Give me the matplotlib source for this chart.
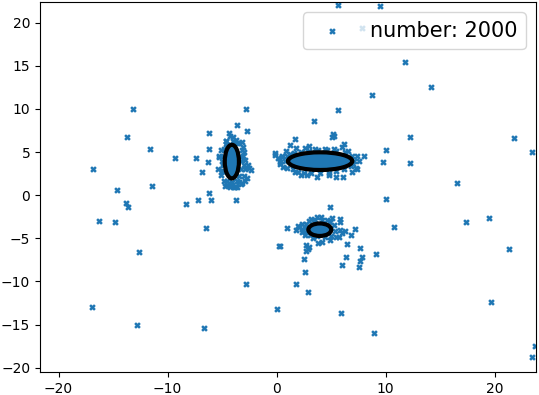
import matplotlib
matplotlib.use("Agg")
import matplotlib.pyplot as plt
from matplotlib.patches import Ellipse

# scattered (readable) points
x_out = [5.6, 9.5, 7.8, 11.8, 14.2, 8.8, 5.6, 3.4, 5.3, 5.1, 12.2, 21.8, 23.4, 10.0, 9.8, 12.2,
         16.6, 10.0, 8.0, 7.4, 1.7, 0.9,
         -13.2, -13.7, -11.6, -16.8, -14.6, -11.4, -9.3, -7.4, -6.2, -6.2, -6.3, -6.8, -6.2, -6.0,
         -7.2, -3.6, -2.8, -2.7, -4.4, -2.3, -2.9, -3.3, -3.7, -5.3, -0.1,
         -13.8, -13.6, -16.3, -14.8, -12.6, -16.9, -12.8, -8.3, -6.5, -2.8, -6.7, 0.0, 0.2, 1.0,
         10.8, 17.4, 19.5, 21.3, 19.7, 23.7, 23.4, 8.9, 5.9, 2.9, 1.8, 2.6, 2.5, 2.7, 2.9, 3.0,
         6.0, 6.4, 6.5, 6.8, 7.2, 7.7, 7.8, 7.7, 7.6, 9.1, 4.9, 5.8, 5.8, 0.3, 2.7,
         -2.7, -3.2]
y_out = [22.0, 21.9, 19.4, 15.5, 12.6, 11.6, 9.9, 8.6, 6.9, 6.7, 6.8, 6.6, 5.0, 5.2, 3.8, 3.7,
         1.4, -0.4, 4.5, 3.0, 6.5, 5.1,
         10.0, 6.8, 5.4, 3.0, 0.6, 1.1, 4.3, 4.3, 7.2, 5.3, 3.9, 2.7, 0.3, -0.5,
         -0.6, 8.1, 10.0, 7.5, 7.2, 2.9, 1.6, 1.3, -0.6, 4.4, 4.7,
         -0.9, -1.4, -3.0, -3.1, -6.6, -13.0, -15.1, -1.0, -3.8, -10.3, -15.4, -13.2, -5.9, -3.8,
         -3.7, -3.1, -2.7, -6.2, -12.4, -17.5, -18.8, -16.0, -13.7, -11.2, -10.3, -8.9, -7.4, -6.5, -6.2, -6.0,
         -8.1, -7.2, -5.7, -4.6, -3.9, -6.1, -7.2, -7.6, -8.3, -6.8, -1.4, -2.8, -3.1, -5.9, -5.8,
         2.0, 1.4]

# points around the dense cores
x_core = [-4.3, -4.6, -3.7, -3.1, -3.0, -5.1, -5.3, -4.9, -5.4, -5.1, -4.8, -4.3, -3.8, -3.4,
          -3.0, -2.5, -2.6, -3.3, -2.9, -4.7, -5.0, -4.5, -3.5, -3.2, -2.9, -3.6, -4.0, -4.2,
          -4.9, -4.9, -4.95, -4.8, -4.6, -3.2, -3.3, -3.25, -3.4, -3.6, -4.5, -4.1, -4.0, -3.6,
          -4.6, -5.0, -3.1, -3.0, -4.3, -3.9, -4.5,
          5.2, -0.1, 7.4, 6.2, 6.0, 1.8, 7.3, 6.9, 6.1, 5.5, 3.7, 2.8, 1.7, 0.3, 0.1, 5.3, 2.6,
          3.5, 4.4, 0.6, 1.0, 7.0, 6.6, 1.2, 2.2, 4.8, 3.0, 0.5, 7.6,
          1.2, 1.0, 0.8, 1.5, 2.0, 2.5, 3.2, 4.0, 4.8, 5.5, 6.2, 6.8, 7.1, 6.9, 6.3, 5.5, 4.6,
          3.8, 3.0, 2.2, 1.6, 0.5, 0.3,
          1.8, 2.1, 3.7, 4.1, 5.1, 6.0, 5.5, 4.2, 3.3, 2.6, 4.6, 3.2, 2.3, 5.7, 4.9, 3.8,
          2.6, 2.7, 3.0, 3.5, 4.2, 4.9, 5.3, 5.4, 5.0, 4.4, 3.7, 3.1, 2.6, 2.3, 5.8, 6.3, 2.0, 2.3]
y_core = [6.9, 6.3, 6.4, 5.6, 5.0, 5.2, 4.5, 3.6, 3.0, 2.3, 1.6, 1.2, 1.0, 1.5,
          2.2, 3.2, 3.5, 4.4, 3.0, 1.1, 2.8, 5.8, 6.0, 6.2, 4.1, 0.9, 6.7, 1.3,
          4.5, 3.5, 2.8, 5.3, 5.9, 5.2, 4.0, 3.0, 2.2, 1.7, 1.7, 1.5, 6.3, 6.1,
          6.3, 4.0, 4.6, 3.5, 0.9, 0.9, 1.2,
          7.1, 4.9, 4.5, 5.9, 5.6, 5.5, 3.1, 2.7, 2.1, 2.1, 2.1, 2.3, 2.7, 3.8, 4.3, 5.4, 5.5,
          5.4, 5.4, 3.3, 4.6, 3.6, 5.1, 5.8, 2.4, 2.3, 5.7, 4.4, 4.0,
          4.8, 3.2, 4.0, 3.0, 2.7, 2.6, 2.6, 2.6, 2.6, 2.8, 3.0, 3.4, 4.0, 4.6, 5.0, 5.1, 5.2,
          5.2, 5.1, 5.0, 4.9, 4.6, 3.6,
          -4.0, -3.7, -2.5, -2.5, -2.7, -4.4, -4.8, -5.4, -5.0, -4.6, -2.9, -2.8, -3.3, -4.9, -5.2, -5.5,
          -3.8, -3.3, -3.0, -2.9, -2.9, -3.1, -3.5, -4.2, -4.7, -4.8, -4.7, -4.6, -4.3, -3.9, -4.0, -4.1, -3.6, -4.3]

# mixture components: centers, widths, heights
cx = [-4.1, 4.0, 3.97]
cy = [3.9, 3.95, -4.0]
cw = [1.3, 5.9, 2.1]
ch = [3.9, 2.05, 1.45]

n_total = 2000

fig = plt.figure(figsize=(5.39, 3.95), dpi=100)
ax = fig.add_axes([0.0742, 0.0582, 0.9202, 0.9367])

ax.scatter(x_out + x_core, y_out + y_core, marker='x', s=12, linewidths=1.8,
           color='C0', label=f'number: {n_total}', zorder=2)
for i in range(len(cx)):
    e = Ellipse((cx[i], cy[i]), cw[i], ch[i], facecolor='C0', edgecolor='black',
                linewidth=3, zorder=3)
    ax.add_patch(e)

ax.set_xlim(-21.7, 23.8)
ax.set_ylim(-20.5, 22.4)
ax.set_xticks([-20, -10, 0, 10, 20])
ax.set_yticks([-20, -15, -10, -5, 0, 5, 10, 15, 20])
ax.legend(loc='upper right', fontsize=15)

fig.savefig('out.png', dpi=100)
